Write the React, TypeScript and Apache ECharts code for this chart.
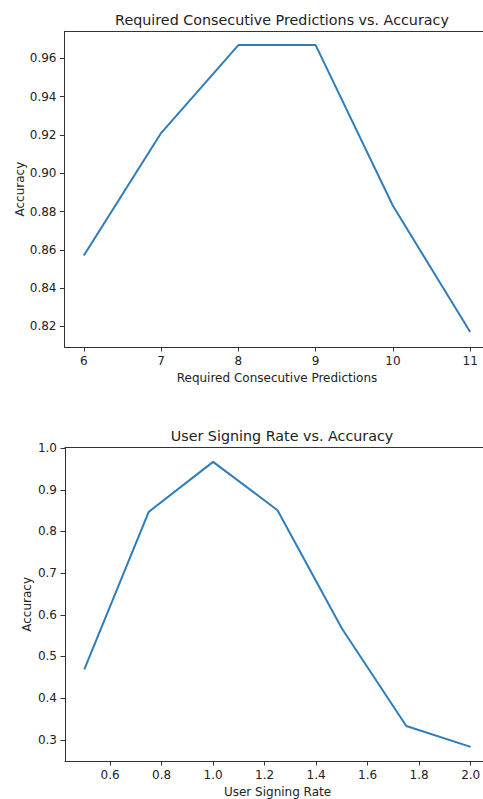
import React, { useEffect, useRef } from "react";
import * as echarts from "echarts";

const consecutive = [6, 7, 8, 9, 10, 11];
const consecutiveAcc = [0.857, 0.921, 0.967, 0.967, 0.883, 0.817];
const consecutiveXTicks = [6, 7, 8, 9, 10, 11];
const consecutiveYTicks = [0.82, 0.84, 0.86, 0.88, 0.9, 0.92, 0.94, 0.96];

const signingRate = [0.5, 0.75, 1.0, 1.25, 1.5, 1.75, 2.0];
const signingAcc = [0.469, 0.847, 0.967, 0.851, 0.567, 0.333, 0.283];
const signingXTicks = [0.6, 0.8, 1.0, 1.2, 1.4, 1.6, 1.8, 2.0];
const signingYTicks = [0.3, 0.4, 0.5, 0.6, 0.7, 0.8, 0.9, 1.0];

const FONT = "DejaVu Sans";
const AX = "#333";
const TXT = "#222";

export default function App() {
  const ref = useRef<HTMLDivElement>(null);
  useEffect(() => {
    if (!ref.current) return;
    const chart = echarts.init(ref.current, undefined, { renderer: "svg" });
    const lab = { color: TXT, fontFamily: FONT, fontSize: 12 };
    const mkX = (grid: number, min: number, max: number, ticks: number[], dec: number, name: string) => ({
      type: "value",
      gridIndex: grid,
      min,
      max,
      name,
      nameLocation: "middle",
      nameGap: 25,
      nameMoveOverlap: false,
      nameTextStyle: { color: TXT, fontFamily: FONT, fontSize: 12 },
      splitLine: { show: false },
      axisLine: { show: true, onZero: false, lineStyle: { color: AX, width: 1 } },
      axisTick: { show: true, length: 4.5, customValues: ticks, lineStyle: { color: AX } },
      axisLabel: { ...lab, margin: 8, customValues: ticks, formatter: (v: number) => v.toFixed(dec) },
    });
    const mkY = (grid: number, min: number, max: number, ticks: number[], dec: number, name: string, gap: number) => ({
      type: "value",
      gridIndex: grid,
      min,
      max,
      name,
      nameLocation: "middle",
      nameGap: gap,
      nameMoveOverlap: false,
      nameTextStyle: { color: TXT, fontFamily: FONT, fontSize: 12 },
      splitLine: { show: false },
      axisLine: { show: true, onZero: false, lineStyle: { color: AX, width: 1 } },
      axisTick: { show: true, length: 4.5, customValues: ticks, lineStyle: { color: AX } },
      axisLabel: { ...lab, margin: 8, customValues: ticks, formatter: (v: number) => v.toFixed(dec) },
    });
    const frameX = (grid: number) => ({
      type: "value",
      gridIndex: grid,
      position: "top",
      axisLine: { show: true, onZero: false, lineStyle: { color: AX, width: 1 } },
      axisTick: { show: false },
      axisLabel: { show: false },
      splitLine: { show: false },
    });
    const frameY = (grid: number) => ({
      type: "value",
      gridIndex: grid,
      position: "right",
      axisLine: { show: true, onZero: false, lineStyle: { color: AX, width: 1 } },
      axisTick: { show: false },
      axisLabel: { show: false },
      splitLine: { show: false },
    });
    chart.setOption({
      animation: false,
      backgroundColor: "#fff",
      title: [
        {
          text: "Required Consecutive Predictions vs. Accuracy",
          left: 277,
          top: 8,
          textAlign: "center",
          textStyle: { color: TXT, fontFamily: FONT, fontSize: 14.3, fontWeight: "normal" },
        },
        {
          text: "User Signing Rate vs. Accuracy",
          left: 277,
          top: 424,
          textAlign: "center",
          textStyle: { color: TXT, fontFamily: FONT, fontSize: 14.3, fontWeight: "normal" },
        },
      ],
      grid: [
        { left: 64.5, top: 31.3, width: 425, height: 315.7 },
        { left: 65, top: 447.7, width: 425, height: 315 },
      ],
      xAxis: [
        mkX(0, 5.75, 11.25, consecutiveXTicks, 0, "Required Consecutive Predictions"),
        mkX(1, 0.425, 2.075, signingXTicks, 1, "User Signing Rate"),
        frameX(0),
        frameX(1),
      ],
      yAxis: [
        mkY(0, 0.8092, 0.9742, consecutiveYTicks, 2, "Accuracy", 39),
        mkY(1, 0.249, 1.001, signingYTicks, 1, "Accuracy", 32),
        frameY(0),
        frameY(1),
      ],
      series: [
        {
          type: "line",
          xAxisIndex: 0,
          yAxisIndex: 0,
          data: consecutive.map((x, i) => [x, consecutiveAcc[i]]),
          showSymbol: false,
          lineStyle: { color: "#2f7dbb", width: 2 },
        },
        {
          type: "line",
          xAxisIndex: 1,
          yAxisIndex: 1,
          data: signingRate.map((x, i) => [x, signingAcc[i]]),
          showSymbol: false,
          lineStyle: { color: "#2f7dbb", width: 2 },
        },
      ],
    });
    return () => chart.dispose();
  }, []);
  return (
    <div style={{ position: "fixed", left: 0, top: 0, width: 483, height: 799, overflow: "hidden", background: "#fff" }}>
      <div ref={ref} style={{ width: 500, height: 799 }} />
    </div>
  );
}
